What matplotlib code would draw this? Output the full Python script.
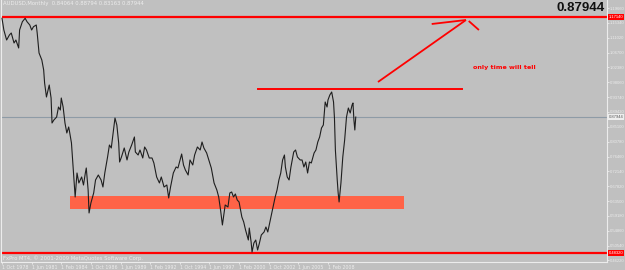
import matplotlib
matplotlib.use("Agg")
import matplotlib.pyplot as plt
import matplotlib.transforms as mtransforms

# ---- data (month index since Oct 1978, AUDUSD monthly close) ----
months = [0, 2, 5, 8, 10, 13, 15, 18, 19, 22, 25, 27, 30, 32, 34, 37, 38, 40, 43, 45,
          46, 48, 51, 53, 54, 56, 59, 61, 63, 64, 66, 68, 70, 72, 73, 75, 77, 79, 81, 83,
          86, 88, 90, 91, 93, 94, 96, 99, 101, 104, 107, 109, 111, 114, 116, 118, 120, 122,
          124, 126, 127, 129, 132, 135, 137, 140, 143, 144, 147, 149, 152, 154, 156, 159,
          162, 164, 167, 170, 172, 175, 178, 180, 182, 185, 188, 190, 194, 196, 198, 201,
          203, 206, 208, 211, 214, 216, 218, 221, 224, 226, 229, 232, 234, 236, 238, 241,
          244, 246, 248, 250, 252, 254, 256, 259, 261, 263, 266, 267, 269, 270, 272, 274,
          276, 278, 280, 283, 285, 287, 289, 292, 295, 297, 299, 301, 303, 305, 306, 308,
          310, 312, 315, 317, 319, 322, 324, 326, 328, 330, 332, 334, 337, 339, 341, 343,
          345, 347, 349, 351, 352, 354, 356, 358, 359, 360, 362, 363, 364, 366, 368, 370,
          372, 374, 376, 378, 379, 380, 381, 382]
closes = [1.1668, 1.1327, 1.1036, 1.1182, 1.1240, 1.0949, 1.1036, 1.0804, 1.1327, 1.1569,
          1.1668, 1.1569, 1.1473, 1.1327, 1.1423, 1.1473, 1.1240, 1.0658, 1.0455, 1.0164,
          0.9786, 0.9378, 0.9727, 0.9349, 0.8622, 0.8709, 0.8796, 0.9087, 0.9000, 0.9349,
          0.9087, 0.8622, 0.8331, 0.8506, 0.8360, 0.8040, 0.7255, 0.6469, 0.7167, 0.6877,
          0.7051, 0.6818, 0.7167, 0.7313, 0.6673, 0.6004, 0.6295, 0.6586, 0.6964, 0.7109,
          0.6964, 0.6760, 0.7167, 0.7633, 0.7982, 0.7895, 0.8331, 0.8767, 0.8564, 0.8040,
          0.7487, 0.7633, 0.7895, 0.7546, 0.7778, 0.7982, 0.8215, 0.7778, 0.7691, 0.7837,
          0.7604, 0.7924, 0.7837, 0.7604, 0.7604, 0.7458, 0.7051, 0.6877, 0.7051, 0.6760,
          0.6818, 0.6440, 0.6760, 0.7167, 0.7342, 0.7313, 0.7720, 0.7400, 0.7255, 0.7109,
          0.7546, 0.7400, 0.7691, 0.7924, 0.7837, 0.8069, 0.7895, 0.7749, 0.7487, 0.7313,
          0.6877, 0.6673, 0.6469, 0.6091, 0.5655, 0.6237, 0.6178, 0.6586, 0.6615, 0.6469,
          0.6557, 0.6382, 0.6324, 0.5888, 0.5742, 0.5509, 0.5218, 0.5567, 0.5160, 0.4869,
          0.5131, 0.5218, 0.4927, 0.5131, 0.5364, 0.5451, 0.5597, 0.5451, 0.5713, 0.6091,
          0.6469, 0.6673, 0.6964, 0.7167, 0.7546, 0.7691, 0.7342, 0.7051, 0.6964, 0.7342,
          0.7778, 0.7837, 0.7633, 0.7546, 0.7546, 0.7342, 0.7487, 0.7167, 0.7487, 0.7458,
          0.7749, 0.7837, 0.8069, 0.8215, 0.8476, 0.8564, 0.9233, 0.9087, 0.9291, 0.9436,
          0.9524, 0.9233, 0.8767, 0.7837, 0.6964, 0.6586, 0.6324, 0.6877, 0.7633, 0.8127,
          0.8796, 0.9058, 0.8913, 0.9146, 0.9204, 0.8709, 0.8418, 0.8794]

date_ticks = [0, 32, 64, 96, 128, 160, 192, 224, 256, 288, 320, 352]
date_labels = ["1 Oct 1978", "1 Jun 1981", "1 Feb 1984", "1 Oct 1986", "1 Jun 1989",
               "1 Feb 1992", "1 Oct 1994", "1 Jun 1997", "1 Feb 2000", "1 Oct 2002",
               "1 Jun 2005", "1 Feb 2008"]
price_ticks = [0.46220 + 0.0432 * k for k in range(18)]

last_price = 0.87944
top_line = 1.17140
bottom_line = 0.48320
resist_level = 0.9600
resist_span = [276, 497]
support_zone = [0.6120, 0.6498]
support_span = [73, 434]
arrow_main = ([406, 501], [0.9815, 1.1618])
arrow_left = ([464, 501], [1.1502, 1.1618])
arrow_right = ([504, 515], [1.1589, 1.1327])
note = "only time will tell"
note_pos = (509, 1.0222)
title = "AUDUSD,Monthly  0.84064 0.88794 0.83163 0.87944"
copyright_txt = "FxPro MT4, \u00a9 2001-2009 MetaQuotes Software Corp."

BG = "#c0c0c0"
FG = "#ececec"
SMALL = dict(family="Liberation Sans", fontsize=3.0)

fig = plt.figure(figsize=(6.25, 2.7), dpi=100, facecolor=BG)
ax = fig.add_axes([1 / 625, 8 / 270, 606 / 625, 262 / 270], facecolor=BG)
ax.set_xlim(-1.08, 653.3)
ax.set_ylim(0.4578, 1.2200)

# support zone
ax.fill_between(support_span, support_zone[0], support_zone[1], color="#ff6347", lw=0, zorder=1)
# horizontal lines
ax.axhline(last_price, color="#8e9ba6", lw=0.8, zorder=1)
ax.axhline(top_line, color="#ff0000", lw=1.6, zorder=2)
ax.axhline(bottom_line, color="#ff0000", lw=1.6, zorder=2)
ax.plot(resist_span, [resist_level, resist_level], color="#ff0000", lw=1.4, zorder=2)
# arrow strokes
for xs, ys in (arrow_main, arrow_left, arrow_right):
    ax.plot(xs, ys, color="#ff0000", lw=1.3, zorder=2, solid_capstyle="butt")

# price line
ax.plot(months, closes, color="#1e1e1e", lw=0.8, zorder=3)

ax.text(note_pos[0], note_pos[1], note, color="#ff0000", fontsize=4.6,
        fontweight="bold", ha="left", va="center", zorder=4)

# texts inside plot
ax.text(0.004, 0.995, title, transform=ax.transAxes, fontsize=3.8, color=FG,
        ha="left", va="top")
ax.text(0.004, 0.004, copyright_txt, transform=ax.transAxes, fontsize=3.8, color=FG,
        ha="left", va="bottom")
ax.text(0.997, 0.992, "0.87944", transform=ax.transAxes, fontsize=9.5, color="#101010",
        fontweight="bold", family="Liberation Sans", ha="right", va="top")

# axes styling
ax.spines["top"].set_visible(False)
for s in ("left", "right", "bottom"):
    ax.spines[s].set_color(FG)
    ax.spines[s].set_linewidth(0.8)
ax.yaxis.tick_right()
ax.set_yticks(price_ticks)
ax.set_yticklabels([f"{v:.5f}" for v in price_ticks], **SMALL)
ax.tick_params(axis="y", colors=FG, labelcolor=FG, length=1.5, width=0.6, pad=0.8)
ax.set_xticks(date_ticks)
ax.set_xticklabels(date_labels, family="DejaVu Sans", fontsize=3.4)
ax.tick_params(axis="x", colors=FG, labelcolor=FG, length=1.5, width=0.6, pad=0.6)
for lab in ax.get_xticklabels():
    lab.set_ha("left")

# right-side price markers
trans = mtransforms.blended_transform_factory(ax.transAxes, ax.transData)
for val, fc, tc in ((top_line, "#ff0000", "#ffffff"), (bottom_line, "#ff0000", "#ffffff"),
                    (last_price, "#eeeeee", "#555555")):
    ax.text(1.0025, val, f"{val:.5f}", transform=trans, color=tc,
            ha="left", va="center", clip_on=False, zorder=5,
            bbox=dict(boxstyle="square,pad=0.2", fc=fc, ec="none"), **SMALL)

fig.savefig("out.png", dpi=100, facecolor=BG)
